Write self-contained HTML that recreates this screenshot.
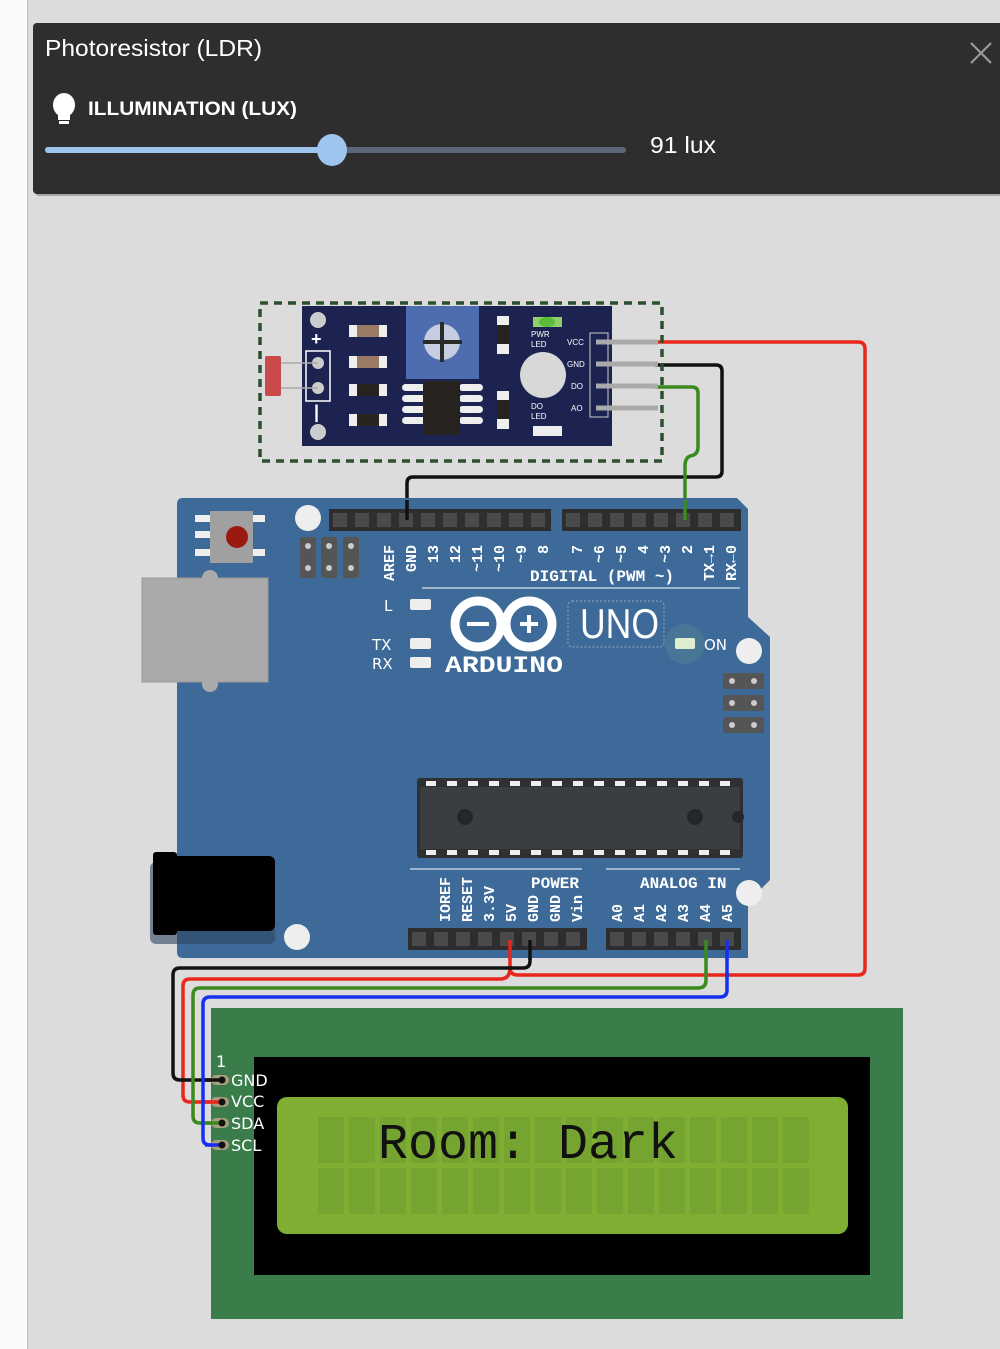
<!DOCTYPE html>
<html><head><meta charset="utf-8"><style>
html,body{margin:0;padding:0;width:1000px;height:1349px;overflow:hidden;background:#dcdcdc}
svg{display:block}
text{font-family:"Liberation Sans",sans-serif}
.m,.m text{font-family:"Liberation Mono","DejaVu Sans Mono",monospace;font-weight:bold;fill:#fff}
.lcd{font-family:"Liberation Mono","DejaVu Sans Mono",monospace}
.dv,.dv text{font-family:"DejaVu Sans",sans-serif}
</style></head><body>
<svg width="1000" height="1349" viewBox="0 0 1000 1349" xmlns="http://www.w3.org/2000/svg">
<rect x="0" y="0" width="1000" height="1349" fill="#dcdcdc"/>
<rect x="0" y="0" width="27" height="1349" fill="#fafafa"/>
<rect x="27" y="0" width="1.5" height="1349" fill="#c8c8c8"/>
<!-- panel -->
<rect x="35" y="26" width="970" height="170" rx="4" fill="#000" opacity="0.25"/>
<rect x="33" y="23" width="975" height="171" rx="4" fill="#2e2e2e"/>
<text x="45" y="56" font-size="23" fill="#fff" textLength="217" lengthAdjust="spacingAndGlyphs">Photoresistor (LDR)</text>
<path d="M971 43 L991 63 M991 43 L971 63" stroke="#9a9a9a" stroke-width="2.2"/>
<ellipse cx="64" cy="105" rx="11" ry="12" fill="#fff"/>
<rect x="58" y="112" width="12" height="8" fill="#fff"/>
<rect x="59" y="121" width="10" height="3" fill="#fff"/>
<text x="88" y="115" font-size="19" font-weight="bold" fill="#fff" textLength="209" lengthAdjust="spacingAndGlyphs">ILLUMINATION (LUX)</text>
<line x1="48" y1="150" x2="623" y2="150" stroke="#5a6878" stroke-width="6" stroke-linecap="round"/>
<line x1="48" y1="150" x2="332" y2="150" stroke="#9ec5ee" stroke-width="6" stroke-linecap="round"/>
<ellipse cx="332" cy="150" rx="15" ry="16" fill="#9ec5ee"/>
<text x="650" y="153" font-size="23" fill="#fff" textLength="66" lengthAdjust="spacingAndGlyphs">91 lux</text>

<!-- wires -->
<g fill="none" stroke-width="3.5" stroke-linejoin="round">
<path d="M655 342 H858 Q865 342 865 349 V968 Q865 975 858 975 H518 Q510 975 510 968 V940" stroke="#e8261b"/>
<path d="M510 968 Q510 979 500 979 H190 Q183 979 183 986 V1095 Q183 1102 190 1102 H222" stroke="#e8261b"/>
<path d="M655 365 H716 Q722 365 722 371 V471 Q722 477 716 477 H413 Q407 477 407 483 V520" stroke="#111"/>
<path d="M530 940 V961 Q530 968 523 968 H180 Q173 968 173 975 V1073 Q173 1080 180 1080 H222" stroke="#111"/>
<path d="M655 387 H692 Q698 387 698 393 V447 Q698 455 690 456 Q685 458 685 466 V520" stroke="#3a8a1e"/>
<path d="M706 940 V980 Q706 988 698 988 H200 Q193 988 193 995 V1116 Q193 1123 200 1123 H222" stroke="#3a8a1e"/>
<path d="M727 940 V990 Q727 997 720 997 H210 Q203 997 203 1004 V1138 Q203 1145 210 1145 H222" stroke="#1530f0"/>
</g>

<!-- LDR module -->
<rect x="260" y="303" width="402" height="158" fill="none" stroke="#2d4f2d" stroke-width="3.5" stroke-dasharray="8,6"/>
<rect x="302" y="306" width="310" height="140" fill="#1c2350"/>
<circle cx="318" cy="320" r="8" fill="#ccc"/><circle cx="318" cy="432" r="8" fill="#ccc"/>
<text x="311" y="345" font-size="18" font-weight="bold" fill="#fff">+</text>
<text x="314" y="418" font-size="18" font-weight="bold" fill="#fff">|</text>
<rect x="306" y="351" width="24" height="50" fill="none" stroke="#fff" stroke-width="1.5"/>
<circle cx="318" cy="363" r="6" fill="#ccc"/><circle cx="318" cy="388" r="6" fill="#ccc"/>
<line x1="272" y1="363" x2="318" y2="363" stroke="#aaa" stroke-width="1.5"/>
<line x1="265" y1="388" x2="318" y2="388" stroke="#aaa" stroke-width="1.5"/>
<rect x="265" y="356" width="16" height="40" rx="2" fill="#c94a4a"/>
<g><rect x="349" y="325" width="38" height="12" fill="#eee"/><rect x="357" y="325" width="22" height="12" fill="#9a7a64"/>
<rect x="349" y="356" width="38" height="12" fill="#eee"/><rect x="357" y="356" width="22" height="12" fill="#9a7a64"/>
<rect x="349" y="384" width="38" height="12" fill="#eee"/><rect x="357" y="384" width="22" height="12" fill="#272420"/>
<rect x="349" y="414" width="38" height="12" fill="#eee"/><rect x="357" y="414" width="22" height="12" fill="#272420"/></g>
<rect x="406" y="306" width="73" height="73" fill="#4d6db0"/>
<circle cx="442" cy="342" r="18" fill="#c7cde0"/>
<path d="M423 342 H462 M442 322 V362" stroke="#2a2a2a" stroke-width="4"/>
<g fill="#eee"><rect x="402" y="384" width="24" height="7" rx="3.5"/><rect x="402" y="395" width="24" height="7" rx="3.5"/><rect x="402" y="406" width="24" height="7" rx="3.5"/><rect x="402" y="417" width="24" height="7" rx="3.5"/>
<rect x="459" y="384" width="24" height="7" rx="3.5"/><rect x="459" y="395" width="24" height="7" rx="3.5"/><rect x="459" y="406" width="24" height="7" rx="3.5"/><rect x="459" y="417" width="24" height="7" rx="3.5"/></g>
<rect x="423" y="381" width="37" height="54" fill="#272420"/>
<rect x="497" y="316" width="12" height="38" fill="#eee"/><rect x="497" y="325" width="12" height="19" fill="#272420"/>
<rect x="497" y="391" width="12" height="38" fill="#eee"/><rect x="497" y="400" width="12" height="19" fill="#272420"/>
<rect x="533" y="317" width="29" height="10" fill="#8fd06a"/><ellipse cx="547" cy="322" rx="8" ry="5" fill="#5dbb3a"/>
<circle cx="543" cy="375" r="23" fill="#d8d8d8"/>
<rect x="533" y="426" width="29" height="10" fill="#eee"/>
<g font-size="8" fill="#fff"><text x="531" y="337">PWR</text><text x="531" y="347">LED</text><text x="531" y="409">DO</text><text x="531" y="419">LED</text>
<text x="567" y="345">VCC</text><text x="567" y="367">GND</text><text x="571" y="389">DO</text><text x="571" y="411">AO</text></g>
<rect x="590" y="333" width="18" height="84" fill="#1c2350" stroke="#ccc" stroke-width="1"/>
<g stroke="#aaa" stroke-width="5"><line x1="596" y1="342" x2="658" y2="342"/><line x1="596" y1="364" x2="658" y2="364"/><line x1="596" y1="386" x2="658" y2="386"/><line x1="596" y1="408" x2="658" y2="408"/></g>

<!-- Arduino -->
<path d="M183 498 H737 L748 509 V617 L770 637 V880 L748 902 V958 H183 Q177 958 177 952 V504 Q177 498 183 498 Z" fill="#3d6a98"/>
<rect x="142" y="578" width="126" height="104" fill="#aaa" stroke="#999"/>
<circle cx="210" cy="578" r="8" fill="#aaa"/><circle cx="210" cy="684" r="8" fill="#aaa"/>
<rect x="150" y="862" width="125" height="82" rx="6" fill="#2d4560" opacity="0.6"/>
<rect x="160" y="856" width="115" height="75" rx="6" fill="#000"/>
<rect x="153" y="852" width="24" height="83" rx="3" fill="#000"/>
<rect x="195" y="515" width="15" height="7" fill="#eee"/><rect x="195" y="531" width="15" height="7" fill="#eee"/><rect x="195" y="549" width="15" height="7" fill="#eee"/>
<rect x="250" y="515" width="15" height="7" fill="#eee"/><rect x="250" y="549" width="15" height="7" fill="#eee"/>
<rect x="210" y="511" width="43" height="52" fill="#a0a0a0"/>
<circle cx="237" cy="537" r="11" fill="#9a1a10"/>
<circle cx="308" cy="518" r="13" fill="#eee"/>
<circle cx="297" cy="937" r="13" fill="#eee"/><circle cx="749" cy="893" r="13" fill="#eee"/><circle cx="749" cy="651" r="13" fill="#eee"/>
<g fill="#555"><rect x="300" y="537" width="16" height="41" rx="2"/><rect x="321" y="537" width="16" height="41" rx="2"/><rect x="343" y="537" width="16" height="41" rx="2"/>
<rect x="723" y="673" width="41" height="16" rx="2"/><rect x="723" y="695" width="41" height="16" rx="2"/><rect x="723" y="717" width="41" height="16" rx="2"/></g>
<g fill="#ccc"><circle cx="308" cy="546" r="3"/><circle cx="308" cy="568" r="3"/><circle cx="329" cy="546" r="3"/><circle cx="329" cy="568" r="3"/><circle cx="351" cy="546" r="3"/><circle cx="351" cy="568" r="3"/>
<circle cx="732" cy="681" r="3"/><circle cx="754" cy="681" r="3"/><circle cx="732" cy="703" r="3"/><circle cx="754" cy="703" r="3"/><circle cx="732" cy="725" r="3"/><circle cx="754" cy="725" r="3"/></g>
<!-- headers -->
<rect x="329" y="509" width="222" height="22" fill="#2e2e2e"/>
<rect x="562" y="509" width="179" height="22" fill="#2e2e2e"/>
<rect x="408" y="928" width="179" height="22" fill="#2e2e2e"/>
<rect x="606" y="928" width="135" height="22" fill="#2e2e2e"/>
<g fill="#4a4a4a">
<rect x="333" y="513" width="14" height="14"/><rect x="355" y="513" width="14" height="14"/><rect x="377" y="513" width="14" height="14"/><rect x="399" y="513" width="14" height="14"/><rect x="421" y="513" width="14" height="14"/><rect x="443" y="513" width="14" height="14"/><rect x="465" y="513" width="14" height="14"/><rect x="487" y="513" width="14" height="14"/><rect x="509" y="513" width="14" height="14"/><rect x="531" y="513" width="14" height="14"/>
<rect x="566" y="513" width="14" height="14"/><rect x="588" y="513" width="14" height="14"/><rect x="610" y="513" width="14" height="14"/><rect x="632" y="513" width="14" height="14"/><rect x="654" y="513" width="14" height="14"/><rect x="676" y="513" width="14" height="14"/><rect x="698" y="513" width="14" height="14"/><rect x="720" y="513" width="14" height="14"/>
<rect x="412" y="932" width="14" height="14"/><rect x="434" y="932" width="14" height="14"/><rect x="456" y="932" width="14" height="14"/><rect x="478" y="932" width="14" height="14"/><rect x="500" y="932" width="14" height="14"/><rect x="522" y="932" width="14" height="14"/><rect x="544" y="932" width="14" height="14"/><rect x="566" y="932" width="14" height="14"/>
<rect x="610" y="932" width="14" height="14"/><rect x="632" y="932" width="14" height="14"/><rect x="654" y="932" width="14" height="14"/><rect x="676" y="932" width="14" height="14"/><rect x="698" y="932" width="14" height="14"/><rect x="720" y="932" width="14" height="14"/>
</g>
<g fill="none" stroke-width="3.5"><path d="M407 500 V520" stroke="#111"/><path d="M685 500 V520" stroke="#3a8a1e"/>
<path d="M510 940 V960" stroke="#e8261b"/><path d="M530 940 V960" stroke="#111"/><path d="M706 940 V960" stroke="#3a8a1e"/><path d="M727 940 V960" stroke="#1530f0"/></g>
<!-- digital labels -->
<g class="m" font-size="15" text-anchor="end">
<text transform="translate(394,545) rotate(-90)">AREF</text><text transform="translate(416,545) rotate(-90)">GND</text>
<text transform="translate(438,545) rotate(-90)">13</text><text transform="translate(460,545) rotate(-90)">12</text>
<text transform="translate(482,545) rotate(-90)">~11</text><text transform="translate(504,545) rotate(-90)">~10</text>
<text transform="translate(526,545) rotate(-90)">~9</text><text transform="translate(548,545) rotate(-90)">8</text>
<text transform="translate(582,545) rotate(-90)">7</text><text transform="translate(604,545) rotate(-90)">~6</text>
<text transform="translate(626,545) rotate(-90)">~5</text><text transform="translate(648,545) rotate(-90)">4</text>
<text transform="translate(670,545) rotate(-90)">~3</text><text transform="translate(692,545) rotate(-90)">2</text>
<text transform="translate(714,545) rotate(-90)">TX→1</text><text transform="translate(736,545) rotate(-90)">RX←0</text>
</g>
<text class="m" x="530" y="581" font-size="16">DIGITAL (PWM ~)</text>
<line x1="422" y1="588" x2="740" y2="588" stroke="#fff" stroke-width="1"/>
<g class="m" font-size="15" text-anchor="start">
<text transform="translate(450,922) rotate(-90)">IOREF</text><text transform="translate(472,922) rotate(-90)">RESET</text>
<text transform="translate(494,922) rotate(-90)">3.3V</text><text transform="translate(516,922) rotate(-90)">5V</text>
<text transform="translate(538,922) rotate(-90)">GND</text><text transform="translate(560,922) rotate(-90)">GND</text>
<text transform="translate(582,922) rotate(-90)">Vin</text>
<text transform="translate(622,922) rotate(-90)">A0</text><text transform="translate(644,922) rotate(-90)">A1</text>
<text transform="translate(666,922) rotate(-90)">A2</text><text transform="translate(688,922) rotate(-90)">A3</text>
<text transform="translate(710,922) rotate(-90)">A4</text><text transform="translate(732,922) rotate(-90)">A5</text>
</g>
<text class="m" x="531" y="888" font-size="16">POWER</text>
<text class="m" x="640" y="888" font-size="16">ANALOG IN</text>
<line x1="410" y1="869" x2="582" y2="869" stroke="#fff" stroke-width="1"/>
<line x1="606" y1="869" x2="740" y2="869" stroke="#fff" stroke-width="1"/>
<!-- logo area -->
<g class="dv" font-size="15" fill="#fff"><text x="384" y="611">L</text><text x="372" y="650">TX</text><text x="372" y="669">RX</text><text x="704" y="650">ON</text></g>
<rect x="410" y="599" width="21" height="11" rx="2" fill="#eee"/>
<rect x="410" y="638" width="21" height="11" rx="2" fill="#eee"/>
<rect x="410" y="657" width="21" height="11" rx="2" fill="#eee"/>
<circle cx="478" cy="624" r="23" fill="none" stroke="#fff" stroke-width="9"/>
<circle cx="529" cy="624" r="23" fill="none" stroke="#fff" stroke-width="9"/>
<path d="M467 624 H489 M520 624 H538 M529 615 V633" stroke="#fff" stroke-width="4"/>
<text class="m" x="445" y="672" font-size="23" textLength="118" lengthAdjust="spacingAndGlyphs">ARDUINO</text>
<rect x="568" y="601" width="96" height="46" rx="4" fill="none" stroke="#9ab" stroke-dasharray="2,2"/>
<text x="580" y="638" font-size="42" fill="#fff" textLength="79" lengthAdjust="spacingAndGlyphs">UNO</text>
<circle cx="685" cy="644" r="20" fill="#9fd08a" opacity="0.12"/>
<rect x="675" y="638" width="20" height="11" rx="2" fill="#dfeecf"/>
<!-- chip -->
<rect x="417" y="778" width="326" height="80" rx="3" fill="#2e3032"/>
<rect x="420" y="787" width="320" height="62" fill="#3b3e41"/>
<g fill="#eee">
<rect x="426" y="781" width="10" height="5"/><rect x="447" y="781" width="10" height="5"/><rect x="468" y="781" width="10" height="5"/><rect x="489" y="781" width="10" height="5"/><rect x="510" y="781" width="10" height="5"/><rect x="531" y="781" width="10" height="5"/><rect x="552" y="781" width="10" height="5"/><rect x="573" y="781" width="10" height="5"/><rect x="594" y="781" width="10" height="5"/><rect x="615" y="781" width="10" height="5"/><rect x="636" y="781" width="10" height="5"/><rect x="657" y="781" width="10" height="5"/><rect x="678" y="781" width="10" height="5"/><rect x="699" y="781" width="10" height="5"/><rect x="720" y="781" width="10" height="5"/>
<rect x="426" y="850" width="10" height="5"/><rect x="447" y="850" width="10" height="5"/><rect x="468" y="850" width="10" height="5"/><rect x="489" y="850" width="10" height="5"/><rect x="510" y="850" width="10" height="5"/><rect x="531" y="850" width="10" height="5"/><rect x="552" y="850" width="10" height="5"/><rect x="573" y="850" width="10" height="5"/><rect x="594" y="850" width="10" height="5"/><rect x="615" y="850" width="10" height="5"/><rect x="636" y="850" width="10" height="5"/><rect x="657" y="850" width="10" height="5"/><rect x="678" y="850" width="10" height="5"/><rect x="699" y="850" width="10" height="5"/><rect x="720" y="850" width="10" height="5"/>
</g>
<circle cx="465" cy="817" r="8" fill="#252628"/><circle cx="695" cy="817" r="8" fill="#252628"/><circle cx="738" cy="817" r="6" fill="#252628"/>

<!-- LCD -->
<rect x="211" y="1008" width="692" height="311" fill="#3a7d4a"/>
<rect x="254" y="1057" width="616" height="218" fill="#000"/>
<rect x="277" y="1097" width="571" height="137" rx="10" fill="#7fae33"/>
<g fill="#76a430">
<rect x="318" y="1117" width="26" height="46"/><rect x="349" y="1117" width="26" height="46"/><rect x="380" y="1117" width="26" height="46"/><rect x="411" y="1117" width="26" height="46"/><rect x="442" y="1117" width="26" height="46"/><rect x="473" y="1117" width="26" height="46"/><rect x="504" y="1117" width="26" height="46"/><rect x="535" y="1117" width="26" height="46"/><rect x="566" y="1117" width="26" height="46"/><rect x="597" y="1117" width="26" height="46"/><rect x="628" y="1117" width="26" height="46"/><rect x="659" y="1117" width="26" height="46"/><rect x="690" y="1117" width="26" height="46"/><rect x="721" y="1117" width="26" height="46"/><rect x="752" y="1117" width="26" height="46"/><rect x="783" y="1117" width="26" height="46"/>
<rect x="318" y="1168" width="26" height="46"/><rect x="349" y="1168" width="26" height="46"/><rect x="380" y="1168" width="26" height="46"/><rect x="411" y="1168" width="26" height="46"/><rect x="442" y="1168" width="26" height="46"/><rect x="473" y="1168" width="26" height="46"/><rect x="504" y="1168" width="26" height="46"/><rect x="535" y="1168" width="26" height="46"/><rect x="566" y="1168" width="26" height="46"/><rect x="597" y="1168" width="26" height="46"/><rect x="628" y="1168" width="26" height="46"/><rect x="659" y="1168" width="26" height="46"/><rect x="690" y="1168" width="26" height="46"/><rect x="721" y="1168" width="26" height="46"/><rect x="752" y="1168" width="26" height="46"/><rect x="783" y="1168" width="26" height="46"/>
</g>
<text class="lcd" x="378" y="1158" font-size="50" fill="#111" textLength="300" lengthAdjust="spacingAndGlyphs">Room: Dark</text>
<g fill="#a99c80"><rect x="211" y="1075" width="18" height="10" rx="5"/><rect x="211" y="1097" width="18" height="10" rx="5"/><rect x="211" y="1118" width="18" height="10" rx="5"/><rect x="211" y="1140" width="18" height="10" rx="5"/></g>
<g fill="none" stroke-width="3.5"><path d="M205 1080 H222" stroke="#111"/><path d="M205 1102 H222" stroke="#e8261b"/><path d="M205 1123 H222" stroke="#3a8a1e"/><path d="M205 1145 H222" stroke="#1530f0"/></g>
<g fill="#111"><circle cx="222" cy="1080" r="3.5"/><circle cx="222" cy="1102" r="3.5"/><circle cx="222" cy="1123" r="3.5"/><circle cx="222" cy="1145" r="3.5"/></g>
<g class="dv" font-size="16" fill="#fff"><text x="216" y="1067">1</text><text x="231" y="1086">GND</text><text x="231" y="1107">VCC</text><text x="231" y="1129">SDA</text><text x="231" y="1151">SCL</text></g>
</svg>
</body></html>
